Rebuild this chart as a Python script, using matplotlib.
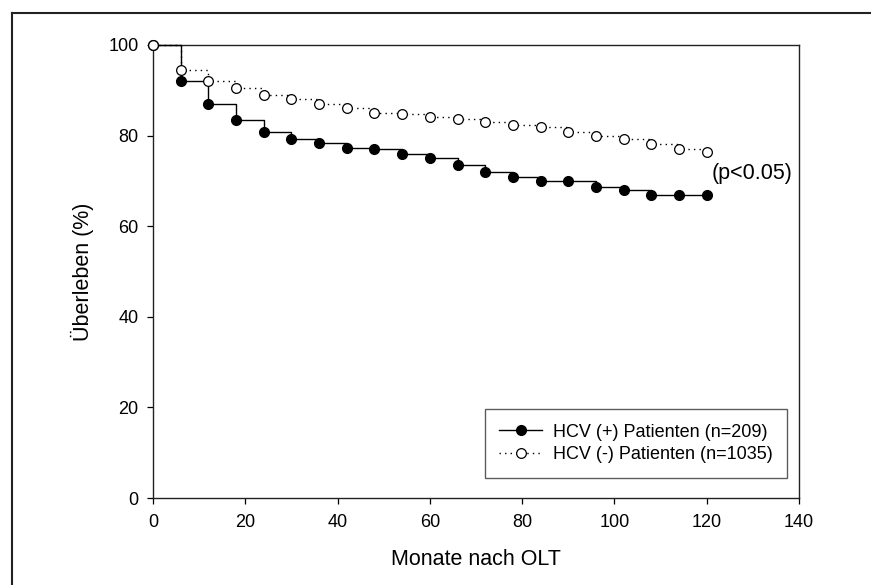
import matplotlib
matplotlib.use("Agg")
import matplotlib.pyplot as plt
from matplotlib.lines import Line2D

plt.rcParams['font.family'] = ['Liberation Sans', 'DejaVu Sans']

# Monate nach OLT
months = [0, 6, 12, 18, 24, 30, 36, 42, 48, 54, 60, 66, 72, 78, 84, 90, 96, 102, 108, 114, 120]
# Ueberleben (%) HCV (+)
hcv_pos = [100, 92.0, 87.0, 83.4, 80.7, 79.2, 78.3, 77.3, 77.0, 75.9, 75.0,
           73.6, 72.0, 70.9, 70.0, 70.0, 68.7, 68.0, 66.9, 66.9, 66.9]
# Ueberleben (%) HCV (-)
hcv_neg = [100, 94.5, 92.0, 90.5, 89.0, 88.0, 87.0, 86.0, 84.9, 84.8, 84.2,
           83.7, 83.0, 82.3, 81.8, 80.7, 79.8, 79.2, 78.1, 77.0, 76.4]

label_pos = 'HCV (+) Patienten (n=209)'
label_neg = 'HCV (-) Patienten (n=1035)'

fig = plt.figure(figsize=(8.71, 5.85), dpi=100)
ax = fig.add_axes([0.1757, 0.1487, 0.7416, 0.7744])

ax.plot(months, hcv_pos, drawstyle='steps-post', color='black', linewidth=1.0,
        marker='o', markersize=7, markerfacecolor='black', markeredgecolor='black',
        label=label_pos, zorder=3, clip_on=False)
ax.plot(months, hcv_neg, drawstyle='steps-post', color='black', linewidth=1.0,
        linestyle=(0, (1, 3)), marker='o', markersize=7, markerfacecolor='white',
        markeredgecolor='black', markeredgewidth=0.9, label=label_neg, zorder=4,
        clip_on=False)

ax.text(121, 71.7, '(p<0.05)', fontsize=15.5, ha='left', va='center')

ax.set_xlim(0, 140)
ax.set_ylim(0, 100)
ax.set_xticks(range(0, 141, 20))
ax.set_yticks(range(0, 101, 20))
ax.tick_params(direction='out', length=4.5, width=0.9, labelsize=13, pad=6,
               top=False, right=False)
ax.tick_params(axis='x', pad=7)
for s in ax.spines.values():
    s.set_linewidth(1.0)
    s.set_color('#222222')

ax.set_xlabel('Monate nach OLT', fontsize=15.5, labelpad=13)
ax.set_ylabel('Überleben (%)', fontsize=15.5, labelpad=10)

leg = ax.legend(loc='lower right', bbox_to_anchor=(0.982, 0.045), fontsize=13,
                frameon=True, fancybox=False, edgecolor='#333333',
                handlelength=2.4, handletextpad=0.6, borderpad=0.8,
                labelspacing=0.3, borderaxespad=0)
leg.get_frame().set_linewidth(1.0)

# border round the figure (only left and top visible)
fig.add_artist(Line2D([12 / 871, 12 / 871], [0, 1 - 13 / 585], transform=fig.transFigure,
                      color='#222222', linewidth=1.5))
fig.add_artist(Line2D([12 / 871, 1], [1 - 13 / 585, 1 - 13 / 585], transform=fig.transFigure,
                      color='#222222', linewidth=1.5))

plt.savefig('out.png', dpi=100)
